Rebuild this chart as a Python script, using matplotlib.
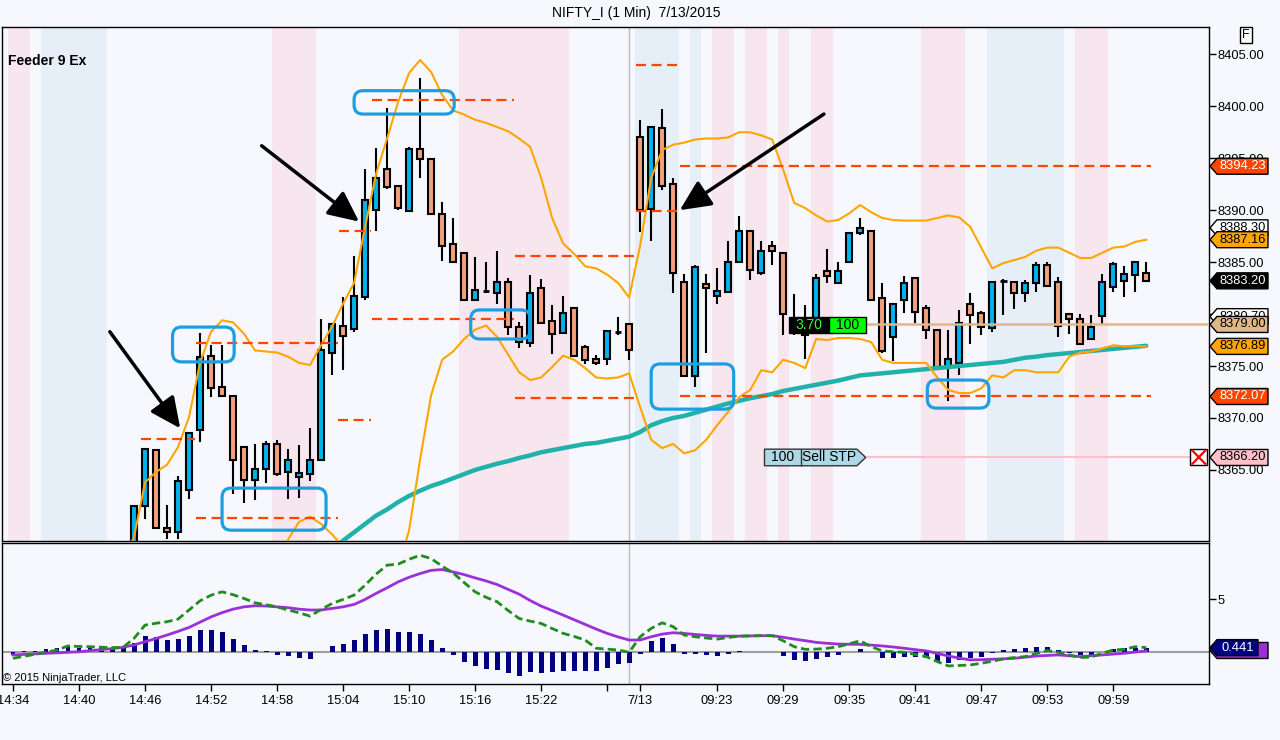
import numpy as np
import matplotlib
matplotlib.use("Agg")
import matplotlib.pyplot as plt
from matplotlib.patches import Rectangle, Polygon, FancyBboxPatch
from matplotlib.transforms import IdentityTransform
from matplotlib.ticker import FormatStrFormatter

plt.rcParams['font.family'] = ['Liberation Sans', 'DejaVu Sans']

# ---------------- data ----------------
bar_idx = np.arange(11, 104)
opens = [8357.5, 8361.5, 8366.9, 8359.4, 8359.0, 8363.1, 8368.8, 8376.0, 8373.0, 8372.1,
         8367.2, 8364.0, 8365.1, 8367.5, 8364.8, 8364.3, 8364.6, 8366.0, 8376.3, 8378.9,
         8378.6, 8381.6, 8390.0, 8394.0, 8392.3, 8389.9, 8395.9, 8394.9, 8389.6, 8386.7,
         8385.9, 8381.4, 8382.2, 8382.0, 8383.1, 8378.8, 8377.2, 8382.5, 8379.3, 8378.2,
         8380.6, 8376.8, 8375.7, 8375.7, 8378.3, 8379.0, 8397.0, 8390.1, 8397.9, 8392.5,
         8383.1, 8374.0, 8382.9, 8381.7, 8382.1, 8385.0, 8388.0, 8384.0, 8386.6, 8385.9,
         8379.5, 8379.0, 8378.8, 8384.1, 8383.0, 8385.0, 8387.8, 8388.0, 8381.5, 8377.8,
         8381.4, 8383.5, 8380.6, 8378.5, 8374.9, 8375.3, 8381.0, 8380.1, 8378.7, 8383.2,
         8383.1, 8382.0, 8383.0, 8384.7, 8383.1, 8380.0, 8379.5, 8377.6, 8379.8, 8382.6,
         8383.2, 8383.8, 8384.0]
highs = [8361.5, 8367.0, 8366.9, 8361.6, 8364.4, 8368.6, 8378.2, 8377.0, 8377.0, 8372.1,
         8367.2, 8367.5, 8367.8, 8367.9, 8367.0, 8367.4, 8369.0, 8379.5, 8379.0, 8381.6,
         8385.6, 8394.0, 8396.0, 8399.8, 8392.3, 8396.1, 8402.7, 8394.9, 8390.8, 8389.2,
         8385.9, 8385.5, 8385.0, 8386.1, 8383.5, 8379.2, 8383.8, 8383.4, 8380.9, 8381.7,
         8380.6, 8377.0, 8376.1, 8378.4, 8379.7, 8379.0, 8398.7, 8398.0, 8399.7, 8393.1,
         8383.9, 8384.7, 8383.9, 8384.4, 8387.0, 8389.4, 8388.0, 8387.0, 8387.0, 8385.9,
         8381.9, 8380.9, 8383.9, 8386.3, 8385.0, 8387.8, 8389.2, 8388.0, 8383.0, 8381.0,
         8383.7, 8383.5, 8380.9, 8378.5, 8378.5, 8380.4, 8382.0, 8380.3, 8383.1, 8383.4,
         8383.2, 8383.3, 8385.0, 8385.0, 8383.6, 8380.0, 8380.0, 8379.9, 8383.9, 8385.0,
         8384.6, 8385.0, 8385.0]
lows = [8357.0, 8360.3, 8359.4, 8358.4, 8358.4, 8362.2, 8367.7, 8372.0, 8372.1, 8362.7,
        8361.8, 8362.1, 8363.7, 8364.4, 8362.2, 8362.3, 8363.9, 8366.0, 8374.1, 8374.6,
        8378.3, 8381.4, 8388.0, 8392.0, 8390.0, 8389.9, 8393.1, 8389.6, 8385.1, 8385.0,
        8381.4, 8381.4, 8382.0, 8381.0, 8378.0, 8376.7, 8376.8, 8379.1, 8376.2, 8378.2,
        8376.0, 8375.2, 8375.1, 8375.1, 8378.0, 8375.6, 8387.9, 8387.0, 8391.9, 8382.0,
        8374.0, 8373.0, 8376.3, 8381.0, 8382.1, 8385.0, 8383.3, 8383.8, 8384.7, 8378.0,
        8378.0, 8375.7, 8378.5, 8383.0, 8383.0, 8385.0, 8387.6, 8381.4, 8376.3, 8375.5,
        8380.1, 8379.1, 8377.6, 8374.9, 8371.6, 8374.1, 8377.1, 8378.0, 8378.3, 8379.9,
        8380.5, 8381.2, 8382.1, 8382.7, 8377.8, 8378.1, 8377.1, 8377.6, 8379.0, 8382.1,
        8381.6, 8382.1, 8383.2]
closes = [8361.5, 8367.0, 8359.4, 8359.0, 8363.9, 8368.6, 8375.9, 8372.9, 8372.1, 8366.0,
          8364.0, 8365.1, 8367.5, 8364.6, 8366.0, 8364.7, 8366.0, 8376.5, 8379.0, 8377.9,
          8381.7, 8391.0, 8393.1, 8392.2, 8390.2, 8395.9, 8394.9, 8389.6, 8386.6, 8385.0,
          8381.4, 8382.3, 8382.2, 8383.1, 8378.8, 8377.3, 8382.0, 8379.1, 8378.1, 8380.1,
          8376.0, 8375.6, 8375.3, 8378.4, 8378.3, 8376.5, 8390.0, 8398.0, 8392.3, 8384.0,
          8374.0, 8384.5, 8382.5, 8382.2, 8385.0, 8388.0, 8384.2, 8386.1, 8386.1, 8380.0,
          8378.6, 8378.0, 8383.5, 8383.7, 8384.1, 8387.8, 8388.3, 8381.4, 8376.4, 8381.0,
          8383.0, 8380.2, 8378.5, 8374.9, 8375.7, 8379.1, 8379.9, 8378.8, 8383.1, 8383.2,
          8382.0, 8383.0, 8384.7, 8382.7, 8378.9, 8379.5, 8377.1, 8378.8, 8383.1, 8384.8,
          8383.9, 8385.0, 8383.2]

upper_idx = np.arange(10, 104)
upper_band = [8356.3, 8358.55, 8363.8, 8364.8, 8365.5, 8367.2, 8370.1, 8375.3, 8378.3, 8379.4,
              8379.2, 8378.1, 8376.5, 8376.4, 8376.3, 8375.9, 8375.3, 8375.1, 8377.0, 8378.8,
              8381.0, 8383.0, 8388.4, 8393.5, 8396.9, 8400.4, 8403.2, 8404.45, 8403.3, 8401.1,
              8399.6, 8399.2, 8398.7, 8398.4, 8398.0, 8397.6, 8396.9, 8396.1, 8393.1, 8389.25,
              8386.8, 8385.8, 8384.6, 8384.4, 8383.8, 8383.0, 8381.6, 8386.6, 8393.1, 8395.8,
              8396.3, 8396.5, 8396.8, 8396.9, 8396.9, 8397.0, 8397.5, 8397.5, 8397.2, 8396.8,
              8393.9, 8390.7, 8390.2, 8389.5, 8388.9, 8389.05, 8389.7, 8390.5, 8389.8, 8389.25,
              8389.05, 8389.0, 8389.0, 8389.0, 8389.25, 8389.5, 8389.3, 8388.4, 8386.4, 8384.4,
              8384.9, 8385.2, 8385.5, 8386.1, 8386.4, 8386.4, 8385.9, 8385.4, 8385.4, 8385.9,
              8386.4, 8386.5, 8386.95, 8387.16]

lower_idx = np.arange(24, 104)
lower_band = [8356.3, 8358.3, 8360.0, 8360.5, 8359.8, 8358.8, 8357.6, 8356.0, 8354.5, 8353.5,
              8353.5, 8355.5, 8359.2, 8366.0, 8372.2, 8375.6, 8376.4, 8377.6, 8378.5, 8378.9,
              8377.8, 8376.1, 8374.4, 8373.65, 8373.9, 8374.9, 8376.0, 8375.6, 8374.8, 8373.9,
              8373.8, 8373.9, 8374.3, 8371.05, 8367.9, 8367.1, 8367.5, 8366.6, 8366.9, 8367.9,
              8369.3, 8370.6, 8372.0, 8372.7, 8374.6, 8374.4, 8375.6, 8375.3, 8374.8, 8377.6,
              8377.5, 8377.7, 8377.7, 8377.6, 8377.3, 8375.6, 8375.3, 8375.3, 8375.3, 8375.3,
              8373.9, 8372.7, 8372.4, 8372.4, 8372.85, 8374.1, 8373.9, 8374.6, 8374.6, 8374.4,
              8374.4, 8374.4, 8375.9, 8376.3, 8376.4, 8376.7, 8377.0, 8376.9, 8376.9, 8376.89]

avg_idx = np.arange(29, 104)
avg_line = [8357.3, 8358.2, 8359.0, 8359.8, 8360.6, 8361.2, 8361.9, 8362.5, 8363.0, 8363.45,
            8363.8, 8364.2, 8364.6, 8365.0, 8365.3, 8365.6, 8365.85, 8366.15, 8366.4, 8366.7,
            8366.9, 8367.1, 8367.3, 8367.5, 8367.6, 8367.8, 8368.0, 8368.2, 8368.65, 8369.3,
            8369.7, 8370.0, 8370.2, 8370.5, 8370.8, 8371.1, 8371.4, 8371.65, 8371.9, 8372.1,
            8372.3, 8372.6, 8372.8, 8373.0, 8373.2, 8373.4, 8373.6, 8373.85, 8374.1, 8374.2,
            8374.3, 8374.4, 8374.5, 8374.6, 8374.7, 8374.8, 8374.9, 8375.0, 8375.1, 8375.2,
            8375.3, 8375.4, 8375.6, 8375.8, 8375.9, 8376.05, 8376.15, 8376.25, 8376.35, 8376.45,
            8376.55, 8376.65, 8376.75, 8376.85, 8376.95]

# dashed levels: (from bar, to bar, price)
levels = [(11.6, 16.5, 8368.0), (16.6, 29.5, 8377.24), (16.6, 29.5, 8360.4),
          (29.5, 32.5, 8369.8), (29.6, 32.5, 8388.0), (32.6, 45.5, 8400.6),
          (32.6, 45.5, 8379.5), (45.6, 56.5, 8385.6), (45.6, 56.5, 8371.95),
          (56.6, 60.5, 8404.0), (56.6, 60.5, 8389.95), (60.6, 103.4, 8394.23),
          (60.6, 103.4, 8372.07)]

# highlight boxes: (bar from, bar to, price low, price high)
boxes = [(14.5, 20.1, 8375.4, 8378.75), (19.0, 28.45, 8359.2, 8363.25),
         (31.0, 40.1, 8399.25, 8401.5), (41.6, 47.0, 8377.6, 8380.4),
         (58.0, 65.5, 8370.85, 8375.2), (83.1, 88.7, 8370.95, 8373.65)]

# arrows: (tail, tip)
arrows = [((8.8, 8378.3), (15.2, 8369.0)), ((22.6, 8396.2), (31.45, 8388.9)),
          ((73.7, 8399.25), (60.6, 8390.0))]

pink_bands = [(0, 1), (24, 27), (41, 50), (64, 65), (67, 68), (70, 70), (73, 74), (83, 86), (97, 99)]
blue_bands = [(3, 8), (57, 60), (62, 62), (89, 95)]

osc_idx = np.arange(0, 104)
hist = [-0.25, 0.1, 0.15, 0.3, 0.38, 0.6, 0.45, 0.45, 0.38, 0.38,
        0.45, 0.9, 1.55, 1.42, 1.16, 1.26, 1.55, 2.12, 2.12, 1.92,
        1.26, 0.69, 0.22, 0.13, -0.25, -0.35, -0.5, -0.63, 0.05, 0.57,
        0.82, 1.13, 1.76, 2.12, 2.2, 1.95, 1.95, 1.76, 1.16, 0.44,
        -0.25, -0.88, -1.3, -1.57, -1.67, -1.92, -2.2, -1.89, -1.92, -1.89,
        -1.73, -1.73, -1.73, -1.73, -1.45, -1.13, -1.04, -0.14, 1.06, 1.32,
        0.82, -0.14, -0.14, -0.25, -0.35, -0.15, 0.1, 0.02, 0.02, 0.02,
        -0.35, -0.75, -0.85, -0.63, -0.41, -0.25, 0.02, 0.35, 0.07, -0.5,
        -0.5, -0.41, -0.41, -0.57, -0.94, -0.97, -0.72, -0.57, -0.41, -0.1,
        0.22, 0.32, 0.38, 0.47, 0.47, 0.22, -0.05, -0.25, -0.25, 0.02,
        0.32, 0.38, 0.45, 0.44]
signal = [-0.25, -0.2, -0.15, -0.1, -0.05, 0.0, 0.05, 0.15, 0.25, 0.35,
          0.47, 0.7, 1.0, 1.3, 1.63, 1.98, 2.35, 2.85, 3.35, 3.75,
          4.08, 4.3, 4.4, 4.38, 4.3, 4.22, 4.08, 4.0, 4.0, 4.15,
          4.3, 4.53, 5.0, 5.57, 6.1, 6.66, 7.1, 7.45, 7.75, 7.83,
          7.6, 7.35, 7.04, 6.75, 6.41, 5.95, 5.5, 4.9, 4.37, 3.95,
          3.52, 3.08, 2.64, 2.2, 1.79, 1.45, 1.16, 1.16, 1.47, 1.72,
          1.85, 1.78, 1.69, 1.6, 1.53, 1.53, 1.53, 1.55, 1.57, 1.57,
          1.42, 1.25, 1.1, 0.94, 0.85, 0.78, 0.76, 0.75, 0.68, 0.6,
          0.5, 0.38, 0.25, 0.13, -0.1, -0.35, -0.55, -0.72, -0.7, -0.66,
          -0.62, -0.57, -0.46, -0.35, -0.3, -0.25, -0.33, -0.41, -0.33, -0.25,
          -0.17, -0.09, 0.02, 0.13]
macd = [-0.57, -0.38, -0.19, 0.0, 0.22, 0.6, 0.55, 0.53, 0.48, 0.44,
        0.47, 1.32, 2.57, 2.75, 2.89, 3.14, 4.0, 4.87, 5.4, 5.72,
        5.45, 5.09, 4.68, 4.5, 4.3, 4.0, 3.74, 3.42, 4.05, 4.62,
        5.0, 5.41, 6.35, 7.4, 8.24, 8.34, 8.8, 9.18, 8.87, 8.15,
        7.51, 6.6, 5.72, 5.2, 4.78, 3.95, 3.2, 2.95, 2.73, 2.25,
        1.79, 1.5, 1.16, 0.38, 0.3, 0.22, 0.0, 1.47, 2.26, 2.79,
        2.42, 1.63, 1.47, 1.35, 1.25, 1.4, 1.53, 1.55, 1.57, 1.57,
        1.09, 0.53, 0.28, 0.3, 0.38, 0.53, 0.8, 1.09, 0.53, 0.13,
        0.05, 0.0, -0.2, -0.41, -0.88, -1.29, -1.25, -1.2, -1.04, -0.85,
        -0.63, -0.5, -0.41, -0.1, 0.16, 0.0, -0.25, -0.5, -0.45, -0.09,
        0.22, 0.28, 0.53, 0.44]

tick_pos = [0, 6, 12, 18, 24, 30, 36, 42, 48, 54, 57, 64, 70, 76, 82, 88, 94, 100]
tick_lbl = ['14:34', '14:40', '14:46', '14:52', '14:58', '15:04', '15:10', '15:16', '15:22', '',
            '7/13', '09:23', '09:29', '09:35', '09:41', '09:47', '09:53', '09:59']

# ---------------- figure ----------------
W, H = 1280, 740
BG = '#F7F8FD'
UP = '#00B2EE'
DN = '#F2A07E'
fig = plt.figure(figsize=(W / 100, H / 100), dpi=100, facecolor=BG)
ax1 = fig.add_axes([2 / W, (H - 541) / H, 1207 / W, 514 / H])
ax2 = fig.add_axes([2 / W, (H - 684) / H, 1207 / W, 141 / H])

for ax in (ax1, ax2):
    ax.set_facecolor(BG)
    ax.set_xlim(-1.0, 108.7)
    for s in ax.spines.values():
        s.set_color('black')
        s.set_linewidth(1)
    ax.yaxis.tick_right()
    ax.tick_params(axis='y', direction='out', length=5, width=1, labelsize=9.3, pad=1)
    ax.axvline(56, color='#BBBBBB', lw=1, zorder=1)

ax1.set_ylim(8358.16, 8407.63)
ax2.set_ylim(-3.0, 10.34)

# background session shading
for s, e in pink_bands:
    ax1.axvspan(s - 0.5, e + 0.5, color='#F7E6EE', lw=0, zorder=0)
for s, e in blue_bands:
    ax1.axvspan(s - 0.5, e + 0.5, color='#E6EFF7', lw=0, zorder=0)

# candles
for i, o, h, l, c in zip(bar_idx, opens, highs, lows, closes):
    ax1.vlines(i, l, h, color='black', lw=1.5, zorder=3)
    if c > o:
        ax1.add_patch(Rectangle((i - 0.26, o), 0.52, c - o, fc=UP, ec='black', lw=1.5, zorder=4))
    elif c < o:
        ax1.add_patch(Rectangle((i - 0.26, c), 0.52, o - c, fc=DN, ec='black', lw=1.5, zorder=4))
    else:
        ax1.hlines(o, i - 0.3, i + 0.3, color='black', lw=2, zorder=4)

ax1.plot(avg_idx, avg_line, color='#20B2AA', lw=3.2, zorder=5, solid_capstyle='round')
ax1.plot(upper_idx, upper_band, color='#FFA500', lw=1.5, zorder=6)
ax1.plot(lower_idx, lower_band, color='#FFA500', lw=1.5, zorder=6)

for x0, x1, y in levels:
    ax1.hlines(y, x0, x1, colors='#FF4500', linestyles=(0, (4.5, 2.5)), lw=1.6, zorder=7)

# order lines / labels
ax1.hlines(8379.0, 77.5, 108.7, color='#DEB887', lw=1.8, zorder=5)
ax1.hlines(8366.2, 77.5, 107.0, color='#FFC0CB', lw=1.5, zorder=5)
ax1.add_patch(Rectangle((70.5, 8378.2), 3.7, 1.55, fc='black', ec='black', lw=1, zorder=9))
ax1.add_patch(Rectangle((74.2, 8378.2), 3.3, 1.55, fc='#00FF00', ec='black', lw=1, zorder=9))
ax1.text(72.35, 8378.97, '3.70', color='#33FF33', fontsize=10, ha='center', va='center', zorder=10)
ax1.text(75.85, 8378.97, '100', color='black', fontsize=10, ha='center', va='center', zorder=10)
ax1.add_patch(Polygon([(68.3, 8365.4), (76.7, 8365.4), (77.5, 8366.2), (76.7, 8367.0), (68.3, 8367.0)],
                      closed=True, fc='#ADD8E6', ec='#333333', lw=1, zorder=9))
ax1.vlines(71.6, 8365.4, 8367.0, color='#333333', lw=1, zorder=10)
ax1.text(69.95, 8366.2, '100', fontsize=10, ha='center', va='center', zorder=10)
ax1.text(74.2, 8366.2, 'Sell STP', fontsize=10, ha='center', va='center', zorder=10)
ax1.add_patch(Rectangle((107.0, 8365.45), 1.55, 1.55, fc='white', ec='black', lw=1, zorder=9))
ax1.plot([107.2, 108.35], [8365.6, 8366.85], color='red', lw=1.6, zorder=10)
ax1.plot([107.2, 108.35], [8366.85, 8365.6], color='red', lw=1.6, zorder=10)

# rounded highlight boxes drawn in pixel space so corners stay round
for x0, x1, y0, y1 in boxes:
    a, b = ax1.transData.transform((x0, y0))
    c, d = ax1.transData.transform((x1, y1))
    ax1.add_patch(FancyBboxPatch((a, b), c - a, d - b, boxstyle='round,pad=0,rounding_size=9',
                                 transform=IdentityTransform(), fill=False, ec='#1C9FE0',
                                 lw=2.3, zorder=8))

for tail, tip in arrows:
    ax1.annotate('', xy=tip, xytext=tail, zorder=9,
                 arrowprops=dict(arrowstyle='-|>,head_length=0.85,head_width=0.4', color='black',
                                 lw=2.5, mutation_scale=22, shrinkA=0, shrinkB=0))

ax1.set_yticks(np.arange(8365, 8406, 5))
ax1.yaxis.set_major_formatter(FormatStrFormatter('%.2f'))
ax1.tick_params(axis='x', length=0, labelbottom=False)
ax1.set_xticks(tick_pos)

# oscillator panel
ax2.axhline(0, color='#A0A0A0', lw=1.5, zorder=1)
ax2.bar(osc_idx, hist, width=0.45, color='#000080', zorder=2)
ax2.plot(osc_idx, signal, color='#9B30D9', lw=2, zorder=3)
ax2.plot(osc_idx, macd, color='#1E8C1E', lw=2, ls=(0, (3, 1.5)), zorder=4)
ax2.set_yticks([5])
ax2.set_yticklabels(['5'])
ax2.set_xticks(tick_pos)
ax2.set_xticklabels(tick_lbl, fontsize=9.3)
ax2.tick_params(axis='x', direction='out', length=5, width=1, pad=3)

# texts
fig.text(636.5 / W, 1 - 13 / H, 'NIFTY_I (1 Min)  7/13/2015', ha='center', va='center', fontsize=10)
fig.text(8 / W, 1 - 61 / H, 'Feeder 9 Ex', ha='left', va='center', fontsize=10, fontweight='bold')
fig.text(3 / W, 1 - 678 / H, '\u00a9 2015 NinjaTrader, LLC', ha='left', va='center', fontsize=8)
fig.text(1246 / W, 1 - 35 / H, 'F', ha='center', va='center', fontsize=9,
         bbox=dict(boxstyle='square,pad=0.15', fc='white', ec='black', lw=1))

# price tags on the right axis
tag_z = [20]


def tag(ax, val, label, fc, tc, w=59):
    yd = ax.transData.transform((0, val))[1]
    x0 = ax.transAxes.transform((1, 0))[0]
    pts = [(x0 + 1, yd), (x0 + 8, yd + 8), (x0 + w, yd + 8), (x0 + w, yd - 8), (x0 + 8, yd - 8)]
    pts = [(p / W, q / H) for p, q in pts]
    tag_z[0] += 1
    fig.add_artist(Polygon(pts, closed=True, fc=fc, ec='black', lw=1,
                           transform=fig.transFigure, zorder=tag_z[0]))
    fig.text((x0 + 8 + (w - 8) / 2) / W, yd / H, label, ha='center', va='center',
             fontsize=9.3, color=tc, zorder=tag_z[0] + 0.5)


tag(ax1, 8394.23, '8394.23', '#FF4500', 'white')
tag(ax1, 8388.30, '8388.30', 'white', 'black')
tag(ax1, 8387.16, '8387.16', '#FFA500', 'black')
tag(ax1, 8383.20, '8383.20', 'black', 'white')
tag(ax1, 8379.75, '8380.70', 'white', 'black')
tag(ax1, 8379.00, '8379.00', '#DEB887', 'black')
tag(ax1, 8376.89, '8376.89', '#FFA500', 'black')
tag(ax1, 8372.07, '8372.07', '#FF4500', 'white')
tag(ax1, 8366.20, '8366.20', '#FFC0CB', 'black')
tag(ax2, 0.17, '0.135', '#9B30D9', 'white')
tag(ax2, 0.441, '0.441', '#000080', 'white', w=49)

fig.savefig('out.png', dpi=100, facecolor=BG)
